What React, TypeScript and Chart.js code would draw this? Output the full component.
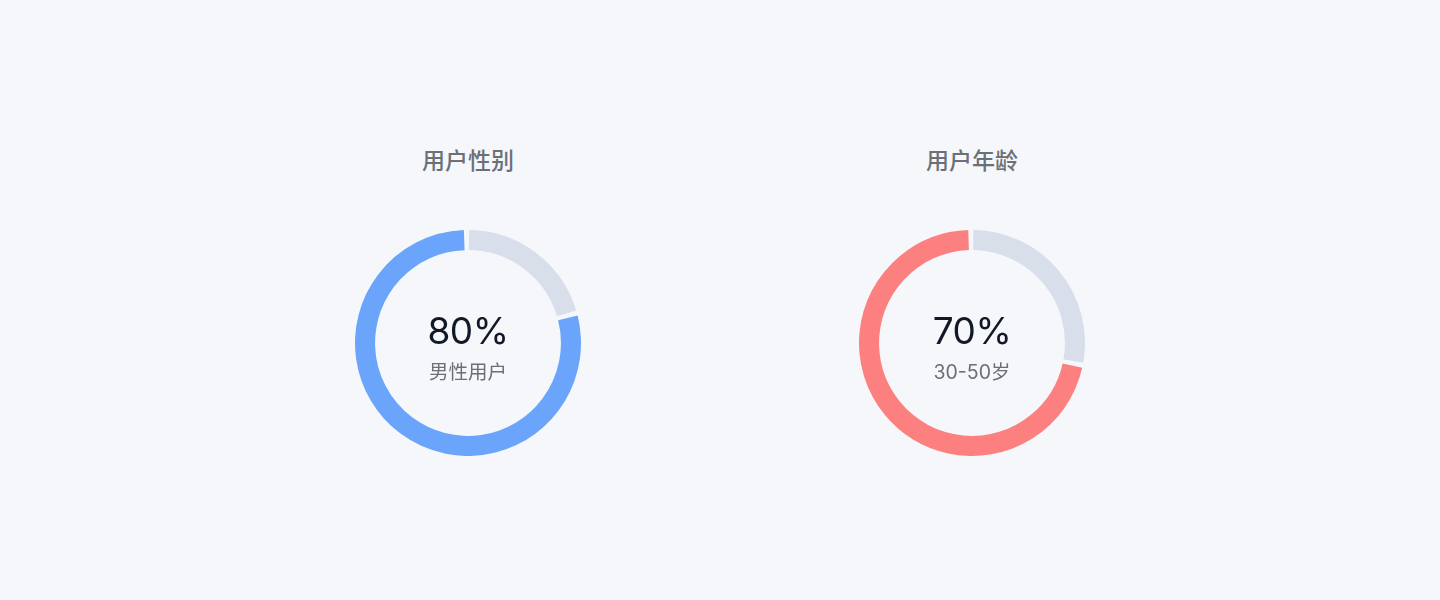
import React, { useEffect, useRef } from 'react';
import { Chart, registerables } from 'chart.js';

Chart.register(...registerables);

// 数据（从 12 点方向顺时针排列：灰色底槽在前，主色在后）
const genderLabels = ['女性用户', '男性用户'];
const genderValues = [20.5, 79.5];
const ageLabels = ['其他年龄', '30-50岁'];
const ageValues = [28, 72];
const centerTexts = ['80%', '70%'];

const TRACK = '#d8dfea';
const BLUE = '#6aa5fb';
const RED = '#fd8080';
const BG = '#f5f7fa';
const FONT = "Inter, 'Noto Sans CJK SC', 'Noto Sans', sans-serif";

type RingProps = {
    title: string;
    labels: string[];
    values: number[];
    color: string;
    center: string;
    caption: string;
    cx: number;
};

const Ring = ({ title, labels, values, color, center, caption, cx }: RingProps) => {
    const chartRef = useRef<HTMLCanvasElement>(null);
    const chartInstance = useRef<Chart | null>(null);

    useEffect(() => {
        if (!chartRef.current) return;
        if (chartInstance.current) chartInstance.current.destroy();

        chartInstance.current = new Chart(chartRef.current.getContext('2d')!, {
            type: 'doughnut',
            data: {
                labels,
                datasets: [
                    {
                        data: values,
                        backgroundColor: [TRACK, color],
                        borderWidth: 0,
                        spacing: 3,
                    },
                ],
            },
            options: {
                animation: false,
                responsive: false,
                cutout: '82%',
                layout: { padding: 0 },
                plugins: {
                    legend: { display: false },
                    tooltip: { enabled: false },
                },
            },
        });

        return () => {
            if (chartInstance.current) {
                chartInstance.current.destroy();
                chartInstance.current = null;
            }
        };
    }, []);

    const size = 226;

    return (
        <>
            <div
                style={{
                    position: 'absolute',
                    left: cx - 100,
                    width: 200,
                    top: 146,
                    textAlign: 'center',
                    fontSize: 23,
                    fontWeight: 500,
                    color: '#6b7078',
                    lineHeight: '30px',
                }}
            >
                {title}
            </div>
            <canvas
                ref={chartRef}
                width={size}
                height={size}
                style={{ position: 'absolute', left: cx - size / 2, top: 343 - size / 2 }}
            />
            <div
                style={{
                    position: 'absolute',
                    left: cx - 80,
                    width: 160,
                    top: 309,
                    textAlign: 'center',
                    fontSize: 37,
                    color: '#111827',
                    lineHeight: '44px',
                    letterSpacing: '-0.5px',
                }}
            >
                {center}
            </div>
            <div
                style={{
                    position: 'absolute',
                    left: cx - 80,
                    width: 160,
                    top: 358,
                    textAlign: 'center',
                    fontSize: 19.5,
                    color: '#6b7078',
                    lineHeight: '28px',
                }}
            >
                {caption}
            </div>
        </>
    );
};

export default function App() {
    useEffect(() => {
        document.body.style.margin = '0';
    }, []);

    return (
        <div
            style={{
                position: 'relative',
                width: 1440,
                height: 600,
                background: BG,
                fontFamily: FONT,
                overflow: 'hidden',
            }}
        >
            <Ring
                title="用户性别"
                labels={genderLabels}
                values={genderValues}
                color={BLUE}
                center={centerTexts[0]}
                caption="男性用户"
                cx={468}
            />
            <Ring
                title="用户年龄"
                labels={ageLabels}
                values={ageValues}
                color={RED}
                center={centerTexts[1]}
                caption="30-50岁"
                cx={972}
            />
        </div>
    );
}
